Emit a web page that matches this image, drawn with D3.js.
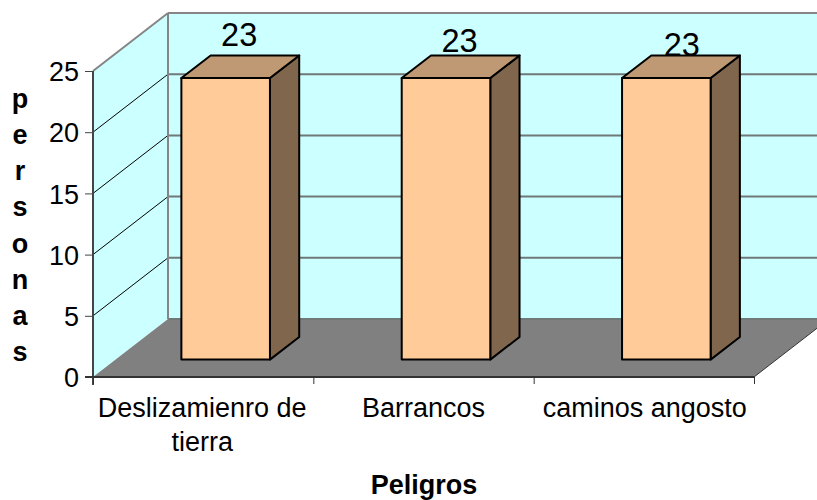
<!DOCTYPE html>
<html><head><meta charset="utf-8">
<script src="https://cdn.jsdelivr.net/npm/d3@7/dist/d3.min.js"></script>
<style>html,body{margin:0;padding:0;background:#fff}svg{display:block}text{font-family:"Liberation Sans",Arial,sans-serif;fill:#000}</style>
</head><body><div id="c"></div>
<script>
const categories = ["Deslizamienro de tierra", "Barrancos", "caminos angosto"];
const categoryLines = [["Deslizamienro de", "tierra"], ["Barrancos"], ["caminos angosto"]];
const values = [23, 23, 23];
const yTicks = [0, 5, 10, 15, 20, 25];
const xTitle = "Peligros";
const yTitle = "personas";

const W = 817, H = 500;
const frontLeft = 93, frontRight = 754, yBase = 377, yTop = 71;
const depthX = 75, depthY = 58;
const barDepthStart = 0.30, barDepthEnd = 0.69, barWidthFrac = 0.402;
const labelShift = [[36, -32], [36, -26], [38, -22]];
const categoryShift = [-1, 0, 1];

const svg = d3.select("#c").append("svg").attr("width", W).attr("height", H);
const x = d3.scaleBand().domain(categories).range([frontLeft, frontRight]);
const y = d3.scaleLinear().domain([0, 25]).range([yBase, yTop]);
const P = (px, py, f) => [px + depthX * f, py - depthY * f];
const pts = a => a.map(p => p.join(",")).join(" ");

const xa = frontLeft, xb = frontRight;
// walls and floor
svg.append("polygon").attr("points", pts([P(xa, y(0), 0), P(xa, y(25), 0), P(xa, y(25), 1), P(xa, y(0), 1)])).attr("fill", "#CCFFFF");
svg.append("polygon").attr("points", pts([P(xa, y(0), 1), P(xa, y(25), 1), P(xb, y(25), 1), P(xb, y(0), 1)])).attr("fill", "#CCFFFF");
svg.append("polygon").attr("points", pts([P(xa, y(0), 0), P(xa, y(0), 1), P(xb, y(0), 1), P(xb, y(0), 0)])).attr("fill", "#808080");

// gridlines
yTicks.forEach(t => {
  const a = P(xa, y(t), 0), b = P(xa, y(t), 1), c = P(xb, y(t), 1);
  if (t > 0 && t < 25) svg.append("line").attr("x1", a[0]).attr("y1", a[1]).attr("x2", b[0]).attr("y2", b[1]).attr("stroke", "#000").attr("stroke-width", 1);
  svg.append("line").attr("x1", b[0]).attr("y1", b[1]).attr("x2", c[0]).attr("y2", c[1]).attr("stroke", t === 25 ? "#858585" : "#707878").attr("stroke-width", 2);
});
// wall frame
const fp = [P(xa, y(0), 1), P(xa, y(25), 1)];
svg.append("line").attr("x1", fp[0][0]).attr("y1", fp[0][1]).attr("x2", fp[1][0]).attr("y2", fp[1][1]).attr("stroke", "#858585").attr("stroke-width", 2);
const tl = P(xa, y(25), 0), tr = P(xa, y(25), 1);
svg.append("line").attr("x1", tl[0]).attr("y1", tl[1]).attr("x2", tr[0]).attr("y2", tr[1]).attr("stroke", "#858585").attr("stroke-width", 2);
const fr = P(xb, y(0), 0), fr2 = P(xb, y(0), 1);
svg.append("line").attr("x1", fr[0]).attr("y1", fr[1]).attr("x2", fr2[0]).attr("y2", fr2[1]).attr("stroke", "#333").attr("stroke-width", 1);

// bars
const bw = x.bandwidth() * barWidthFrac;
const bars = svg.append("g").selectAll("g").data(categories).join("g");
bars.each(function (c, i) {
  const g = d3.select(this);
  const l = x(c) + x.bandwidth() / 2 - bw / 2, r = l + bw, v = values[i];
  const stroke = s => s.attr("stroke", "#000").attr("stroke-width", 2).attr("stroke-linejoin", "round");
  stroke(g.append("polygon").attr("points", pts([P(r, y(0), barDepthStart), P(r, y(0), barDepthEnd), P(r, y(v), barDepthEnd), P(r, y(v), barDepthStart)])).attr("fill", "#80664D"));
  stroke(g.append("polygon").attr("points", pts([P(l, y(v), barDepthStart), P(r, y(v), barDepthStart), P(r, y(v), barDepthEnd), P(l, y(v), barDepthEnd)])).attr("fill", "#BF9973"));
  stroke(g.append("polygon").attr("points", pts([P(l, y(0), barDepthStart), P(r, y(0), barDepthStart), P(r, y(v), barDepthStart), P(l, y(v), barDepthStart)])).attr("fill", "#FFCC99"));
  g.append("text").attr("x", x(c) + x.bandwidth() / 2 + labelShift[i][0]).attr("y", y(v) + labelShift[i][1] - 17)
    .attr("text-anchor", "middle").attr("font-size", 32.5).text(v);
});

// axes
const axL = svg.append("g").attr("transform", `translate(${frontLeft},0)`)
  .call(d3.axisLeft(y).tickValues(yTicks).tickSize(8).tickPadding(6));
axL.selectAll("path").attr("d", `M0,${yTop}V${yBase + 8}`).attr("stroke", "#444").attr("stroke-width", 2).attr("fill", "none");
axL.selectAll("line").attr("stroke", "#444").attr("stroke-width", 1);
axL.selectAll("text").attr("font-size", 27).attr("font-family", null).attr("dy", "0.36em");

const tickScale = d3.scalePoint().domain(d3.range(categories.length + 1)).range([frontLeft, frontRight]);
const axB = svg.append("g").attr("transform", `translate(0,${yBase})`)
  .call(d3.axisBottom(tickScale).tickSize(7).tickFormat(""));
axB.selectAll("path").attr("d", `M${frontLeft - 8},0H${frontRight}`).attr("stroke", "#333").attr("stroke-width", 2).attr("fill", "none");
axB.selectAll("line").attr("stroke", "#333").attr("stroke-width", 1);

// category labels
categories.forEach((c, i) => {
  const cx = x(c) + x.bandwidth() / 2 + categoryShift[i];
  const t = svg.append("text").attr("x", cx).attr("y", 417).attr("text-anchor", "middle").attr("font-size", 27);
  categoryLines[i].forEach((s, k) => t.append("tspan").attr("x", cx).attr("dy", k ? 34 : 0).text(s));
});

// titles
svg.append("text").attr("x", 424).attr("y", 494).attr("text-anchor", "middle").attr("font-size", 27).attr("font-weight", "bold").text(xTitle);
const letterY = d3.scalePoint().domain(d3.range(yTitle.length)).range([108, 361]);
yTitle.split("").forEach((ch, i) => svg.append("text").attr("x", 20).attr("y", letterY(i)).attr("text-anchor", "middle")
  .attr("font-size", 27).attr("font-weight", "bold").text(ch));
</script></body></html>
